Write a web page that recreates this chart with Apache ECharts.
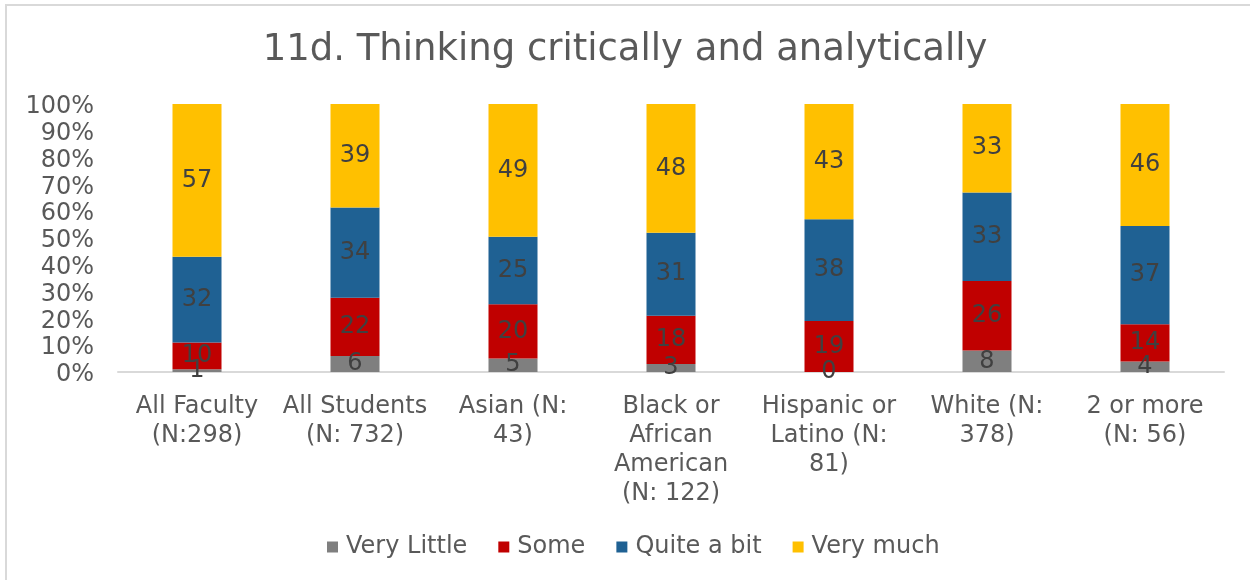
<!DOCTYPE html>
<html>
<head>
<meta charset="utf-8">
<script src="https://cdn.jsdelivr.net/npm/echarts@6/dist/echarts.min.js"></script>
<style>
  html, body { margin: 0; padding: 0; background: #ffffff; }
  #chart { width: 1250px; height: 580px; }
</style>
</head>
<body>
<div id="chart"></div>
<script>
// Groups along the x axis
const categories = [
  'All Faculty\n(N:298)',
  'All Students\n(N: 732)',
  'Asian (N:\n43)',
  'Black or\nAfrican\nAmerican\n(N: 122)',
  'Hispanic or\nLatino (N:\n81)',
  'White (N:\n378)',
  '2 or more\n(N: 56)'
];

// Response percentages per group
const veryLittle = [1, 6, 5, 3, 0, 8, 4];
const some       = [10, 22, 20, 18, 19, 26, 14];
const quiteABit  = [32, 34, 25, 31, 38, 33, 37];
const veryMuch   = [57, 39, 49, 48, 43, 33, 46];

const yTicks = [0, 10, 20, 30, 40, 50, 60, 70, 80, 90, 100];

const seriesDefs = [
  { name: 'Very Little', values: veryLittle, color: '#7f7f7f' },
  { name: 'Some',        values: some,       color: '#c00000' },
  { name: 'Quite a bit', values: quiteABit,  color: '#1f6193' },
  { name: 'Very much',   values: veryMuch,   color: '#ffc000' }
];

// Each column is scaled to a 100% total; labels keep the reported figure
const totals = categories.map((_, i) =>
  seriesDefs.reduce((s, d) => s + d.values[i], 0));

const FONT = '"DejaVu Sans", Verdana, sans-serif';
const TEXT = '#595959';

const chart = echarts.init(document.getElementById('chart'), null, { renderer: 'canvas' });

chart.setOption({
  animation: false,
  backgroundColor: '#ffffff',
  textStyle: { fontFamily: FONT },
  title: {
    text: '11d. Thinking critically and analytically',
    left: 'center',
    top: 27,
    textStyle: { fontFamily: FONT, fontSize: 37, fontWeight: 'normal', color: TEXT }
  },
  legend: {
    bottom: 16,
    left: 322,
    itemWidth: 11,
    itemHeight: 11,
    itemGap: 31,
    icon: 'rect',
    textStyle: { fontFamily: FONT, fontSize: 24, color: TEXT, padding: [0, 0, 0, 3] },
    data: seriesDefs.map(d => d.name)
  },
  grid: { left: 118, right: 26, top: 104, bottom: 208, containLabel: false },
  xAxis: {
    type: 'category',
    data: categories,
    axisLine: { lineStyle: { color: '#d9d9d9', width: 2 } },
    axisTick: { show: false },
    axisLabel: {
      interval: 0,
      margin: 20,
      fontFamily: FONT,
      fontSize: 24,
      lineHeight: 29,
      color: TEXT
    }
  },
  yAxis: {
    type: 'value',
    min: yTicks[0],
    max: yTicks[yTicks.length - 1],
    interval: yTicks[1] - yTicks[0],
    axisLine: { show: false },
    axisTick: { show: false },
    splitLine: { show: false },
    axisLabel: {
      margin: 24,
      color: TEXT,
      formatter: v => '{t|' + v + '%}',
      rich: {
        t: { fontFamily: FONT, fontSize: 24, color: TEXT, padding: [6, 0, 0, 0] }
      }
    }
  },
  series: seriesDefs.map(d => ({
    name: d.name,
    type: 'bar',
    stack: 'total',
    barWidth: 49,
    itemStyle: { color: d.color },
    label: {
      show: true,
      position: 'inside',
      fontFamily: FONT,
      fontSize: 24,
      color: '#404040',
      formatter: p => String(p.data.raw)
    },
    data: d.values.map((v, i) => ({ value: v / totals[i] * 100, raw: v }))
  })),
  graphic: [{
    type: 'rect',
    shape: { x: 6, y: 5, width: 1300, height: 700 },
    style: { fill: 'none', stroke: '#d9d9d9', lineWidth: 2 },
    silent: true,
    z: 100
  }]
});
</script>
</body>
</html>
